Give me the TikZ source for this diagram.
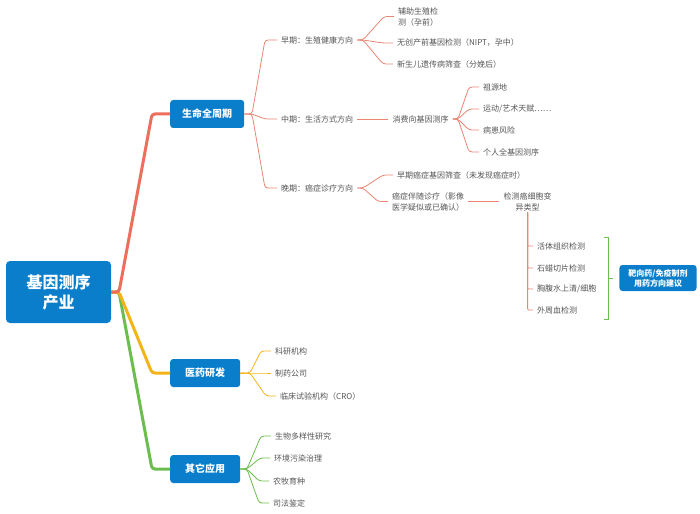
\documentclass[tikz,border=0pt]{standalone}
\usepackage{fontspec}
\setmainfont{Noto Sans CJK SC}
\usepackage{tikz}
\usetikzlibrary{positioning}
\definecolor{boxblue}{HTML}{0A7ECB}
\definecolor{lifered}{HTML}{EE6E5E}
\definecolor{thinred}{HTML}{E98573}
\definecolor{drugorange}{HTML}{F3B418}
\definecolor{othergreen}{HTML}{6BBE4E}
\definecolor{leafgray}{HTML}{555555}
\tikzset{rootnode/.style={rectangle, rounded corners=4pt, fill=boxblue, text=white, font=\fontsize{16}{20}\selectfont\bfseries, align=center, minimum width=105pt, minimum height=62pt}}
\tikzset{mainnode/.style={rectangle, rounded corners=3pt, fill=boxblue, text=white, font=\fontsize{10}{12}\selectfont\bfseries, minimum width=70pt, minimum height=28pt, inner xsep=12pt, anchor=west}}
\tikzset{advicenode/.style={rectangle, rounded corners=3pt, fill=boxblue, text=white, font=\fontsize{8}{10}\selectfont\bfseries, align=center, minimum height=26pt, inner xsep=9pt}}
\tikzset{leafnode/.style={text=leafgray, font=\fontsize{8}{11}\selectfont, inner xsep=4pt, inner ysep=1.5pt, anchor=west, align=left}}
\tikzset{thickline/.style={line width=3pt, rounded corners=3pt}}
\tikzset{thinline/.style={line width=0.8pt, rounded corners=3pt}}

\begin{document}
\begin{tikzpicture}[x=1pt, y=-1pt]
    \useasboundingbox (0,0) rectangle (700,513);

    % root and main branches
    \node[rootnode]     (gene)      at (58.5,292)   {基因测序\\产业};
    \coordinate         (genebp)    at (119,292);
    \node[mainnode]     (life)      at (170,114)    {生命全周期};
    \node[mainnode]     (drug)      at (170,373)    {医药研发};
    \node[mainnode]     (other)     at (170,469)    {其它应用};

    \draw[thickline, draw=othergreen] (gene.east) -- (genebp) -- ([xshift=-18pt]other.west) -- (other.west);
    \draw[thickline, draw=drugorange] (gene.east) -- (genebp) -- ([xshift=-18pt]drug.west) -- (drug.west);
    \draw[thickline, draw=lifered]    (gene.east) -- (genebp) -- ([xshift=-18pt]life.west) -- (life.west);

    % life cycle
    \coordinate         (lifebp)    at (252,114);
    \node[leafnode]     (early)     at (277,40)     {早期：生殖健康方向};
    \node[leafnode]     (middle)    at (277,119)    {中期：生活方式方向};
    \node[leafnode]     (late)      at (277,188)    {晚期：癌症诊疗方向};

    \foreach \leaf in {early,middle,late}
        \draw[thinline, draw=thinred] (life.east) -- (lifebp) -- ([xshift=-12pt]\leaf.west) -- (\leaf.west);

    % early stage
    \coordinate         (earlybp)   at (363,40);
    \node[leafnode]     (assist)    at (394,16.5)   {辅助生殖检\\测（孕前）};
    \node[leafnode]     (nipt)      at (393,43)     {无创产前基因检测（NIPT，孕中）};
    \node[leafnode]     (newborn)   at (393,64)     {新生儿遗传病筛查（分娩后）};

    \foreach \leaf in {assist,nipt,newborn}
        \draw[thinline, draw=thinred] (early.east) -- (earlybp) -- ([xshift=-10pt]\leaf.west) -- (\leaf.west);

    % middle stage
    \node[leafnode]     (consumer)  [right=31pt of middle]  {消费向基因测序};
    \coordinate         (consbp)    at (458,119);
    \node[leafnode]     (ancestry)  at (479,87)     {祖源地};
    \node[leafnode]     (talent)    at (479,109)    {运动/艺术天赋……};
    \node[leafnode]     (risk)      at (479,130)    {病患风险};
    \node[leafnode]     (genome)    at (479,152)    {个人全基因测序};

    \draw[thinline, draw=thinred] (middle.east) -- (consumer.west);
    \foreach \leaf in {ancestry,talent,risk,genome}
        \draw[thinline, draw=thinred] (consumer.east) -- (consbp) -- ([xshift=-10pt]\leaf.west) -- (\leaf.west);

    % late stage
    \coordinate         (latebp)    at (363,188);
    \node[leafnode]     (screen)    at (393,175)    {早期癌症基因筛查（未发现癌症时）};
    \node[leafnode]     (companion) at (388,201.5)  {癌症伴随诊疗（影像\\医学疑似或已确认）};
    \node[leafnode, align=center] (detect) [right=31pt of companion] {检测癌细胞变\\异类型};

    \foreach \leaf in {screen,companion}
        \draw[thinline, draw=thinred] (late.east) -- (latebp) -- ([xshift=-10pt]\leaf.west) -- (\leaf.west);
    \draw[thinline, draw=thinred] (companion.east) -- (detect.west);

    \node[leafnode]     (biopsy)    at (533,246)    {活体组织检测};
    \node[leafnode]     (paraffin)  at (533,268)    {石蜡切片检测};
    \node[leafnode]     (effusion)  at (533,289)    {胸腹水上清/细胞};
    \node[leafnode]     (blood)     at (533,310)    {外周血检测};

    \foreach \leaf in {biopsy,paraffin,effusion,blood}
        \draw[thinline, draw=thinred, rounded corners=1pt] (detect.south) |- (\leaf.west);

    % advice bracket
    \coordinate         (brtop)     at (604,237);
    \coordinate         (brmid)     at (608,278);
    \coordinate         (brbot)     at (604,319);
    \node[advicenode]   (advice)    at (658,278)    {靶向药/免疫制剂\\用药方向建议};

    \draw[thinline, draw=othergreen, rounded corners=0pt] (brtop) -| (brmid) |- (brbot);
    \draw[thinline, draw=othergreen, shorten >=6pt] (brmid) -- (advice.west);

    % drug research
    \coordinate         (drugbp)    at (250,373);
    \node[leafnode]     (research)  at (271,351)    {科研机构};
    \node[leafnode]     (pharma)    at (271,373)    {制药公司};
    \node[leafnode]     (cro)       at (276,396)    {临床试验机构（CRO）};

    \foreach \leaf in {research,pharma,cro}
        \draw[thinline, draw=drugorange] (drug.east) -- (drugbp) -- ([xshift=-10pt]\leaf.west) -- (\leaf.west);

    % other uses
    \coordinate         (otherbp)   at (247,469);
    \node[leafnode]     (biodiv)    at (271,436)    {生物多样性研究};
    \node[leafnode]     (environ)   at (270,458)    {环境污染治理};
    \node[leafnode]     (breeding)  at (269,481)    {农牧育种};
    \node[leafnode]     (forensic)  at (269,503)    {司法鉴定};

    \foreach \leaf in {biodiv,environ,breeding,forensic}
        \draw[thinline, draw=othergreen] (other.east) -- (otherbp) -- ([xshift=-10pt]\leaf.west) -- (\leaf.west);
\end{tikzpicture}
\end{document}
